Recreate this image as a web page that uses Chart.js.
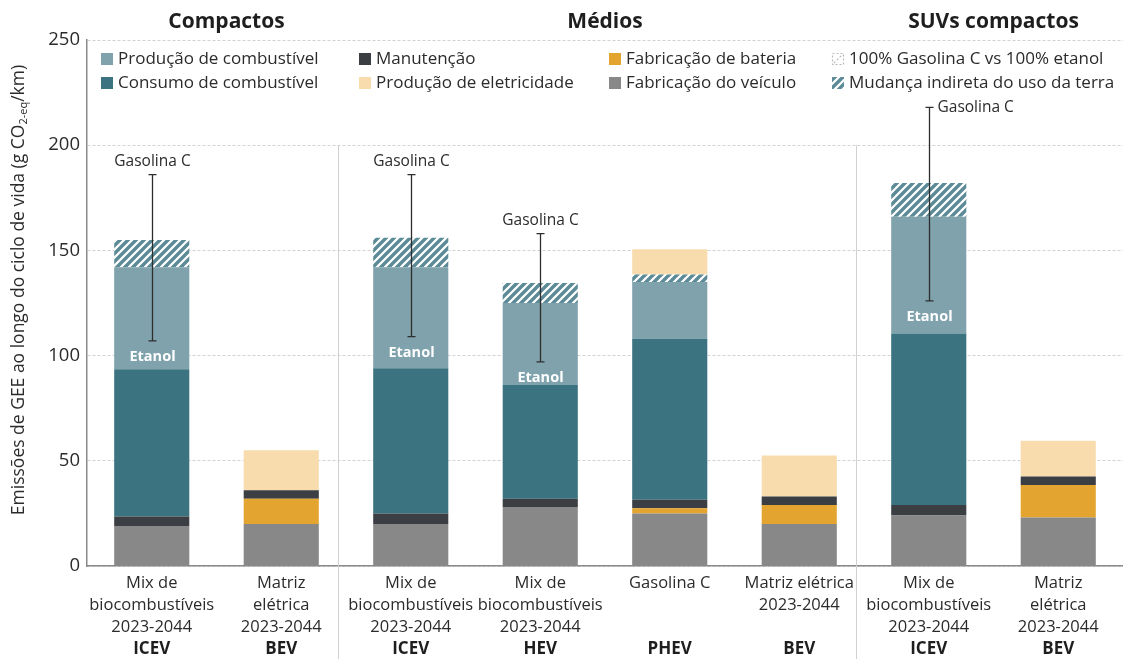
<!DOCTYPE html>
<html>
<head>
  <title>Emissões de GEE ao longo do ciclo de vida</title>
  <style>
    body {
      margin: 0;
      background: #fff;
    }
  </style>
  <script src="https://cdn.jsdelivr.net/npm/chart.js"></script>
</head>
<body>
  <canvas id="chart" width="1123" height="659"></canvas>
  <script>
    const FONT = "'Open Sans', sans-serif";

    // categories (x tick labels), vehicle type and group of each bar
    const categories = [
      ['Mix de', 'biocombustíveis', '2023-2044'],
      ['Matriz', 'elétrica', '2023-2044'],
      ['Mix de', 'biocombustíveis', '2023-2044'],
      ['Mix de', 'biocombustíveis', '2023-2044'],
      ['Gasolina C'],
      ['Matriz elétrica', '2023-2044'],
      ['Mix de', 'biocombustíveis', '2023-2044'],
      ['Matriz', 'elétrica', '2023-2044']
    ];
    const vehicleTypes = ['ICEV', 'BEV', 'ICEV', 'HEV', 'PHEV', 'BEV', 'ICEV', 'BEV'];
    const groupNames = ['Compactos', 'Médios', 'SUVs compactos'];
    const groupOf = [0, 0, 1, 1, 1, 1, 2, 2];

    // stacked segments, bottom to top (g CO2-eq/km)
    const fabricacaoVeiculo = [19, 20, 20, 28, 25, 20, 24, 23];
    const fabricacaoBateria = [0, 12, 0, 0, 2.5, 9, 0, 15.5];
    const manutencao = [4.5, 4, 5, 4, 4, 4, 5, 4];
    const consumoCombustivel = [70, 0, 69, 54, 76.5, 0, 81.5, 0];
    const producaoCombustivel = [48.5, 0, 48, 39, 27, 0, 55.5, 0];
    const mudancaUsoTerra = [13, 0, 14, 9.5, 3.5, 0, 16, 0];
    const producaoEletricidade = [0, 19, 0, 0, 12, 19.5, 0, 17];

    // range 100% Gasolina C (top) vs 100% etanol (bottom)
    const gasolinaC = [186, null, 186, 158, null, null, 218, null];
    const etanol = [107, null, 109, 97, null, null, 126, null];

    const yTicks = [0, 50, 100, 150, 200, 250];

    const colors = {
      producaoCombustivel: '#7fa2ac',
      consumoCombustivel: '#3b7480',
      manutencao: '#3b3e43',
      fabricacaoBateria: '#e4a530',
      producaoEletricidade: '#f8dcae',
      fabricacaoVeiculo: '#888888',
      hatch: '#5c8b97'
    };

    function makeHatch() {
      const c = document.createElement('canvas');
      c.width = 8; c.height = 8;
      const g = c.getContext('2d');
      g.fillStyle = '#ffffff';
      g.fillRect(0, 0, 8, 8);
      g.strokeStyle = colors.hatch;
      g.lineWidth = 3.4;
      g.beginPath();
      g.moveTo(-2, 2); g.lineTo(2, -2);
      g.moveTo(0, 8); g.lineTo(8, 0);
      g.moveTo(6, 10); g.lineTo(10, 6);
      g.stroke();
      return g.createPattern(c, 'repeat');
    }
    const hatch = makeHatch();

    const series = [
      { label: 'Fabricação do veículo', data: fabricacaoVeiculo, color: colors.fabricacaoVeiculo },
      { label: 'Fabricação de bateria', data: fabricacaoBateria, color: colors.fabricacaoBateria },
      { label: 'Manutenção', data: manutencao, color: colors.manutencao },
      { label: 'Consumo de combustível', data: consumoCombustivel, color: colors.consumoCombustivel },
      { label: 'Produção de combustível', data: producaoCombustivel, color: colors.producaoCombustivel },
      { label: 'Mudança indireta do uso da terra', data: mudancaUsoTerra, color: hatch },
      { label: 'Produção de eletricidade', data: producaoEletricidade, color: colors.producaoEletricidade }
    ];

    // legend columns, top row then bottom row
    const legendColumns = [
      ['Produção de combustível', 'Consumo de combustível'],
      ['Manutenção', 'Produção de eletricidade'],
      ['Fabricação de bateria', 'Fabricação do veículo'],
      ['100% Gasolina C vs 100% etanol', 'Mudança indireta do uso da terra']
    ];

    const overlay = {
      id: 'overlay',
      beforeDatasetsDraw(chart) {
        const { ctx, scales: { x, y } } = chart;
        // group separators
        ctx.save();
        ctx.strokeStyle = '#d0d0d0';
        ctx.lineWidth = 1;
        for (let i = 1; i < groupOf.length; i++) {
          if (groupOf[i] !== groupOf[i - 1]) {
            const px = Math.round((x.getPixelForValue(i - 1) + x.getPixelForValue(i)) / 2) - 7.5;
            ctx.beginPath();
            ctx.moveTo(px, y.getPixelForValue(200));
            ctx.lineTo(px, chart.height);
            ctx.stroke();
          }
        }
        ctx.restore();
      },
      afterDatasetsDraw(chart) {
        const { ctx, scales: { x, y } } = chart;
        ctx.save();

        // error bars Gasolina C / Etanol
        ctx.strokeStyle = '#2e2e2e';
        ctx.lineWidth = 1.3;
        gasolinaC.forEach((top, i) => {
          if (top == null) return;
          const px = Math.round(x.getPixelForValue(i)) + 0.5;
          const yt = y.getPixelForValue(top);
          const yb = y.getPixelForValue(etanol[i]);
          ctx.beginPath();
          ctx.moveTo(px, yt); ctx.lineTo(px, yb);
          ctx.moveTo(px - 4, yt); ctx.lineTo(px + 4, yt);
          ctx.moveTo(px - 4, yb); ctx.lineTo(px + 4, yb);
          ctx.stroke();

          ctx.fillStyle = '#2b2b2b';
          ctx.font = '15.5px ' + FONT;
          ctx.textBaseline = 'middle';
          if (i === gasolinaC.length - 2) {
            ctx.textAlign = 'left';
            ctx.fillText('Gasolina C', px + 8, yt);
          } else {
            ctx.textAlign = 'center';
            ctx.fillText('Gasolina C', px, yt - 13);
          }
          ctx.fillStyle = '#ffffff';
          ctx.font = 'bold 14.5px ' + FONT;
          ctx.textAlign = 'center';
          ctx.fillText('Etanol', px, yb + 16);
        });

        // vehicle type labels under the categories
        ctx.fillStyle = '#1e1e1e';
        ctx.font = 'bold 17px ' + FONT;
        ctx.textAlign = 'center';
        ctx.textBaseline = 'middle';
        vehicleTypes.forEach((t, i) => ctx.fillText(t, x.getPixelForValue(i), 649));

        // group titles
        ctx.font = 'bold 21px ' + FONT;
        groupNames.forEach((name, g) => {
          const idx = groupOf.map((v, i) => v === g ? i : -1).filter(i => i >= 0);
          const cx = (x.getPixelForValue(idx[0]) + x.getPixelForValue(idx[idx.length - 1])) / 2;
          ctx.fillText(name, cx + (g === 0 ? 10 : 0), 22);
        });

        // legend
        const colX = [101, 359, 609, 832];
        const rowY = [59, 83];
        ctx.font = '17px ' + FONT;
        ctx.textAlign = 'left';
        legendColumns.forEach((col, c) => {
          col.forEach((label, r) => {
            const lx = colX[c], ly = rowY[r];
            const s = series.find(d => d.label === label);
            if (s) {
              ctx.fillStyle = s.color;
              ctx.fillRect(lx, ly - 6, 12, 12);
            } else {
              // range marker icon
              ctx.strokeStyle = '#b8b8b8';
              ctx.lineWidth = 1.2;
              ctx.setLineDash([2, 2]);
              ctx.strokeRect(lx + 0.5, ly - 5.5, 11, 11);
              ctx.beginPath();
              ctx.moveTo(lx + 2, ly + 4); ctx.lineTo(lx + 10, ly - 4);
              ctx.stroke();
              ctx.setLineDash([]);
            }
            ctx.fillStyle = '#2b2b2b';
            ctx.fillText(label, lx + 17, ly);
          });
        });

        // y axis title with subscript
        ctx.translate(19, 290);
        ctx.rotate(-Math.PI / 2);
        const main = 'Emissões de GEE ao longo do ciclo de vida (g CO';
        const sub = '2-eq';
        const tail = '/km)';
        ctx.font = '17.5px ' + FONT;
        const wMain = ctx.measureText(main).width;
        const wTail = ctx.measureText(tail).width;
        ctx.font = '11px ' + FONT;
        const wSub = ctx.measureText(sub).width;
        let tx = -(wMain + wSub + wTail) / 2;
        ctx.fillStyle = '#2b2b2b';
        ctx.textBaseline = 'middle';
        ctx.font = '17.5px ' + FONT;
        ctx.fillText(main, tx, 0);
        tx += wMain;
        ctx.font = '11px ' + FONT;
        ctx.fillText(sub, tx, 5);
        tx += wSub;
        ctx.font = '17.5px ' + FONT;
        ctx.fillText(tail, tx, 0);
        ctx.restore();
      }
    };

    const ctx = document.getElementById('chart').getContext('2d');
    new Chart(ctx, {
      type: 'bar',
      data: {
        labels: categories,
        datasets: series.map(s => ({
          label: s.label,
          data: s.data,
          backgroundColor: s.color,
          borderWidth: 0,
          stack: 'total',
          barPercentage: 0.58,
          categoryPercentage: 1
        }))
      },
      options: {
        responsive: false,
        animation: false,
        devicePixelRatio: 1,
        layout: { padding: { top: 40, right: 0, left: 0, bottom: 0 } },
        plugins: {
          legend: { display: false },
          tooltip: { enabled: false }
        },
        scales: {
          x: {
            stacked: true,
            grid: { display: false, drawTicks: false },
            border: { display: true, color: '#8a8a8a', width: 1.5 },
            ticks: {
              color: '#2b2b2b',
              font: { family: FONT, size: 16.5, lineHeight: 1.333 },
              padding: 6,
              maxRotation: 0,
              autoSkip: false
            },
            afterFit: s => { s.height = 93; }
          },
          y: {
            stacked: true,
            min: 0,
            max: 250,
            afterBuildTicks: s => { s.ticks = yTicks.map(v => ({ value: v })); },
            ticks: {
              color: '#2b2b2b',
              font: { family: FONT, size: 18.5 },
              padding: 7
            },
            grid: { color: '#d2d2d2', lineWidth: 1, drawTicks: false },
            border: { display: true, color: '#8a8a8a', width: 1.5, dash: [3, 2] },
            afterFit: s => { s.width = 87; }
          }
        }
      },
      plugins: [overlay]
    });
  </script>
</body>
</html>
